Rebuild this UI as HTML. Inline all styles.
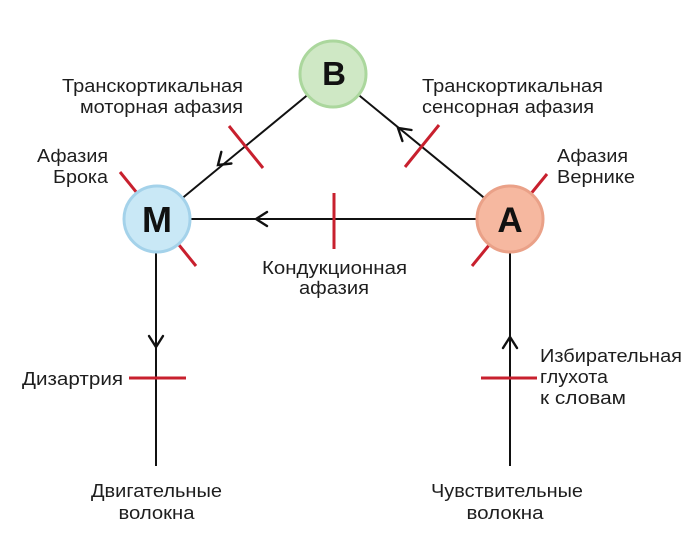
<!DOCTYPE html>
<html>
<head>
<meta charset="utf-8">
<style>
  html, body { margin: 0; padding: 0; background: #ffffff; }
  svg { display: block; }
  text { font-family: "Liberation Sans", "DejaVu Sans", sans-serif; fill: #1e1e1e; }
  .lbl { font-size: 18px; }
  .big { font-weight: bold; fill: #111; }
</style>
</head>
<body>
<svg width="700" height="560" viewBox="0 0 700 560" xmlns="http://www.w3.org/2000/svg">
  <rect width="700" height="560" fill="#ffffff"/>

  <!-- red ticks behind circles -->
  <g stroke="#c8202e" stroke-width="3" stroke-linecap="butt">
    <line x1="120" y1="172" x2="196" y2="266"/>
    <line x1="472" y1="266" x2="547" y2="174"/>
  </g>

  <!-- black connectors -->
  <g stroke="#111" stroke-width="2" fill="none">
    <line x1="157" y1="219" x2="333" y2="74"/>
    <line x1="333" y1="74" x2="510" y2="219"/>
    <line x1="157" y1="219" x2="510" y2="219"/>
    <line x1="156" y1="219" x2="156" y2="466"/>
    <line x1="510" y1="219" x2="510" y2="466"/>
  </g>

  <!-- arrow chevrons -->
  <g stroke="#111" stroke-width="2.4" fill="none" stroke-linecap="round" stroke-linejoin="miter">
    <polyline points="267,212 256,219 267,226"/>
    <polyline points="149,336 156,347 163,336"/>
    <polyline points="503,348 510,337 517,348"/>
    <polyline points="221.3,151.9 218,165 231.4,163.5"/>
    <polyline points="402.4,141.0 398,128 411.5,130.0"/>
  </g>

  <!-- red ticks on connectors -->
  <g stroke="#c8202e" stroke-width="3">
    <line x1="229" y1="126" x2="263" y2="168"/>
    <line x1="439" y1="125" x2="405" y2="167"/>
    <line x1="334" y1="193" x2="334" y2="249"/>
    <line x1="129" y1="378" x2="186" y2="378"/>
    <line x1="481" y1="378" x2="537" y2="378"/>
  </g>

  <!-- circles -->
  <circle cx="333" cy="74" r="33" fill="#cfe8c5" stroke="#abd79d" stroke-width="3"/>
  <circle cx="157" cy="219" r="33" fill="#c9e8f6" stroke="#a4d2ea" stroke-width="3"/>
  <circle cx="510" cy="219" r="33" fill="#f6b8a0" stroke="#eaa188" stroke-width="3"/>

  <text class="big" x="334" y="85" text-anchor="middle" style="font-size:33px">B</text>
  <text class="big" x="157" y="232" text-anchor="middle" style="font-size:36px">M</text>
  <text class="big" x="510" y="232" text-anchor="middle" style="font-size:35px">A</text>

  <!-- labels -->
  <g class="lbl">
  <text class="lbl" x="243" y="92" text-anchor="end" textLength="181" lengthAdjust="spacingAndGlyphs">Транскортикальная</text>
  <text class="lbl" x="243" y="113" text-anchor="end" textLength="163" lengthAdjust="spacingAndGlyphs">моторная афазия</text>

  <text class="lbl" x="422" y="92" textLength="181" lengthAdjust="spacingAndGlyphs">Транскортикальная</text>
  <text class="lbl" x="422" y="113" textLength="172" lengthAdjust="spacingAndGlyphs">сенсорная афазия</text>

  <text class="lbl" x="108" y="162" text-anchor="end" textLength="71" lengthAdjust="spacingAndGlyphs">Афазия</text>
  <text class="lbl" x="108" y="183" text-anchor="end" textLength="55" lengthAdjust="spacingAndGlyphs">Брока</text>

  <text class="lbl" x="557" y="162" textLength="71" lengthAdjust="spacingAndGlyphs">Афазия</text>
  <text class="lbl" x="557" y="183" textLength="78" lengthAdjust="spacingAndGlyphs">Вернике</text>

  <text class="lbl" x="334.5" y="274" text-anchor="middle" textLength="145" lengthAdjust="spacingAndGlyphs">Кондукционная</text>
  <text class="lbl" x="334" y="294" text-anchor="middle" textLength="70" lengthAdjust="spacingAndGlyphs">афазия</text>

  <text class="lbl" x="123" y="385" text-anchor="end" textLength="101" lengthAdjust="spacingAndGlyphs">Дизартрия</text>

  <text class="lbl" x="540" y="362" textLength="142" lengthAdjust="spacingAndGlyphs">Избирательная</text>
  <text class="lbl" x="540" y="383" textLength="68" lengthAdjust="spacingAndGlyphs">глухота</text>
  <text class="lbl" x="540" y="404" textLength="86" lengthAdjust="spacingAndGlyphs">к словам</text>

  <text class="lbl" x="156.5" y="497" text-anchor="middle" textLength="131" lengthAdjust="spacingAndGlyphs">Двигательные</text>
  <text class="lbl" x="156.5" y="519" text-anchor="middle" textLength="76" lengthAdjust="spacingAndGlyphs">волокна</text>

  <text class="lbl" x="507" y="497" text-anchor="middle" textLength="152" lengthAdjust="spacingAndGlyphs">Чувствительные</text>
  <text class="lbl" x="505" y="519" text-anchor="middle" textLength="77" lengthAdjust="spacingAndGlyphs">волокна</text>
  </g>
</svg>
</body>
</html>
